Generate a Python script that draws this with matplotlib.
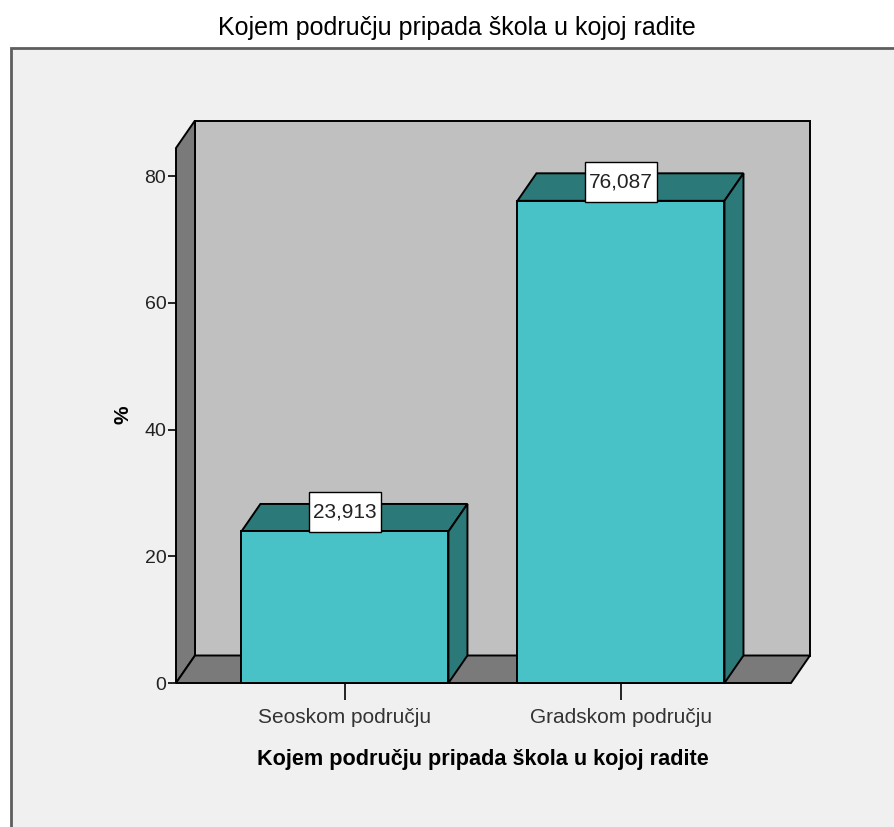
import matplotlib
matplotlib.use("Agg")
import matplotlib.pyplot as plt
from matplotlib.patches import Rectangle, Polygon
from matplotlib.path import Path

# data
categories = ["Seoskom području", "Gradskom području"]
percents = [23.913, 76.087]
y_ticks = [0, 20, 40, 60, 80]
title = "Kojem području pripada škola u kojoj radite"

front_color = "#48c2c6"
dark_color = "#2c7979"
wall_color = "#c0c0c0"
side_color = "#7a7a7a"

plt.rcParams["font.family"] = ["Liberation Sans", "DejaVu Sans"]


def label_box(x0, y0, width, height, mutation_size):
    # box a bit taller than wide padding, like the SPSS value labels
    px, py = 0.2 * mutation_size, 0.5 * mutation_size
    return Path([(x0 - px, y0 - py), (x0 + width + px, y0 - py),
                 (x0 + width + px, y0 + height + py), (x0 - px, y0 + height + py),
                 (x0 - px, y0 - py)], closed=True)


W, H = 895, 827
fig = plt.figure(figsize=(W / 100, H / 100), dpi=100, facecolor="white")

# outer grey frame
fig.patches.append(Rectangle((11 / W, -0.1), 1.2, 1 - 48 / H + 0.1,
                             transform=fig.transFigure, facecolor="#f0f0f0",
                             edgecolor="#5e5e5e", linewidth=2, zorder=-10))

ax = fig.add_axes([176 / W, 1 - 683 / H, (791 - 176) / W, (683 - 148) / H])
ax.set_facecolor("none")
for s in ax.spines.values():
    s.set_visible(False)

x0, x1 = -0.612, 1.616
ytop = 84.42
dx = 19 / 276
dy = 27.5 / 6.3375
bw = 0.75
ax.set_xlim(x0, x1)
ax.set_ylim(0, ytop)

kw = dict(edgecolor="black", linewidth=1.4, clip_on=False, joinstyle="miter")
# back wall, side wall, floor
ax.add_patch(Rectangle((x0 + dx, dy), x1 - x0, ytop, facecolor=wall_color, zorder=1, **kw))
ax.add_patch(Polygon([(x0, 0), (x0 + dx, dy), (x0 + dx, ytop + dy), (x0, ytop)],
                     facecolor=side_color, zorder=2, **kw))
ax.add_patch(Polygon([(x0, 0), (x1, 0), (x1 + dx, dy), (x0 + dx, dy)],
                     facecolor=side_color, zorder=2, **kw))

for i, v in enumerate(percents):
    l, r = i - bw / 2, i + bw / 2
    ax.add_patch(Polygon([(l, v), (r, v), (r + dx, v + dy), (l + dx, v + dy)],
                         facecolor=dark_color, zorder=3, **kw))
    ax.add_patch(Polygon([(r, 0), (r + dx, dy), (r + dx, v + dy), (r, v)],
                         facecolor=dark_color, zorder=3, **kw))
    ax.add_patch(Rectangle((l, 0), bw, v, facecolor=front_color, zorder=4, **kw))
    ax.annotate(f"{v:.3f}".replace(".", ","), (i, v), xytext=(0, 7),
                textcoords="offset points", ha="center", va="bottom",
                fontsize=15, color="#222222", zorder=6,
                bbox=dict(boxstyle=label_box, facecolor="white",
                          edgecolor="black", linewidth=1))

ax.set_yticks(y_ticks)
ax.set_yticklabels([str(t) for t in y_ticks], fontsize=14, color="#222222")
ax.tick_params(axis="y", direction="out", length=6, width=1.2, pad=1)
ax.set_xticks(range(len(categories)))
ax.set_xticklabels(categories, fontsize=15, color="#333333")
ax.tick_params(axis="x", direction="out", length=12, width=1.2, pad=6)

fig.text(457 / W, 1 - 28 / H, title, ha="center", va="center", fontsize=18, color="black")
fig.text(483 / W, 1 - 760 / H, title, ha="center", va="center", fontsize=15.6,
         fontweight="bold", color="black")
fig.text(123 / W, 1 - 415 / H, "%", ha="center", va="center", rotation=90,
         fontsize=15, fontweight="bold", color="black")

fig.savefig("out.png", dpi=100, facecolor="white")
